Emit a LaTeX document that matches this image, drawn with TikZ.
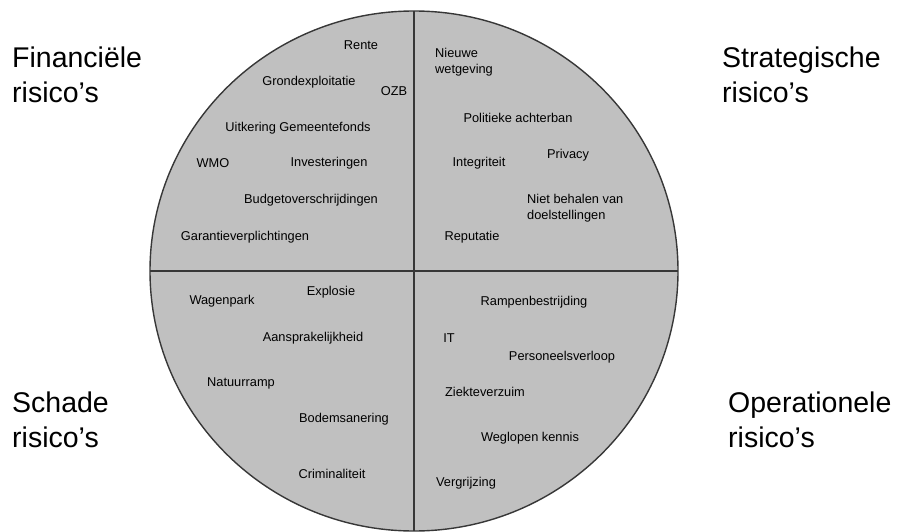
\documentclass[tikz,border=0pt]{standalone}
\usepackage{fontspec}
\setmainfont{Liberation Sans}
\usepackage{tikz}
\usetikzlibrary{shapes,positioning}
\definecolor{wheelgray}{RGB}{192,192,192}
\definecolor{rimgray}{RGB}{55,55,55}

\begin{document}
\begin{tikzpicture}[x=1pt,y=-1pt,
  risk_node/.style={inner sep=0pt,font=\fontsize{12.8}{15.5}\selectfont,align=left},
  group_node/.style={inner sep=0pt,anchor=west,font=\fontsize{28.5}{35}\selectfont,align=left},
  rim/.style={draw=rimgray,line width=1.4pt}]
	\useasboundingbox (0,0) rectangle (897,532);
	\node[ellipse,rim,fill=wheelgray,minimum width=528pt,minimum height=520pt,inner sep=0pt,outer sep=0pt] (wheel) at (414,271) {};
	\draw[rim] (wheel.north) -- (wheel.south);
	\draw[rim] (wheel.west) -- (wheel.east);
	
	% kwadrant labels
	\node[group_node] (fin) at (12,75) {Financiële\\risico's};
	\node[group_node] (strat) at (722,75) {Strategische\\risico's};
	\node[group_node] (schade) at (12,420) {Schade\\risico's};
	\node[group_node] (oper) at (728,420) {Operationele\\risico's};
	
	% financieel
	\node[risk_node] (rente) at (361,45) {Rente};
	\node[risk_node] (grond) at (309,82) {Grondexploitatie};
	\node[risk_node] (ozb) at (394,91) {OZB};
	\node[risk_node] (gemfonds) at (298,128) {Uitkering Gemeentefonds};
	\node[risk_node] (wmo) at (213,163) {WMO};
	\node[risk_node] (invest) at (329,163) {Investeringen};
	\node[risk_node] (budget) at (311,200) {Budgetoverschrijdingen};
	\node[risk_node] (garantie) at (245,237) {Garantieverplichtingen};
	
	% strategisch
	\node[risk_node,anchor=west] (wetgeving) at (435,62) {Nieuwe\\wetgeving};
	\node[risk_node] (achterban) at (518,118) {Politieke achterban};
	\node[risk_node] (privacy) at (568,155) {Privacy};
	\node[risk_node] (integriteit) at (479,163) {Integriteit};
	\node[risk_node,anchor=west] (doelen) at (527,208) {Niet behalen van\\doelstellingen};
	\node[risk_node] (reputatie) at (472,237) {Reputatie};
	
	% schade
	\node[risk_node] (explosie) at (331,292) {Explosie};
	\node[risk_node] (wagenpark) at (222,301) {Wagenpark};
	\node[risk_node] (aanspr) at (313,338) {Aansprakelijkheid};
	\node[risk_node] (natuur) at (241,383) {Natuurramp};
	\node[risk_node] (bodem) at (344,419) {Bodemsanering};
	\node[risk_node] (crimi) at (332,474) {Criminaliteit};
	
	% operationeel
	\node[risk_node] (rampen) at (534,302) {Rampenbestrijding};
	\node[risk_node] (it) at (449,338) {IT};
	\node[risk_node] (verloop) at (562,357) {Personeelsverloop};
	\node[risk_node] (verzuim) at (485,392) {Ziekteverzuim};
	\node[risk_node] (kennis) at (530,438) {Weglopen kennis};
	\node[risk_node] (vergrijzing) at (466,483) {Vergrijzing};
\end{tikzpicture}
\end{document}
